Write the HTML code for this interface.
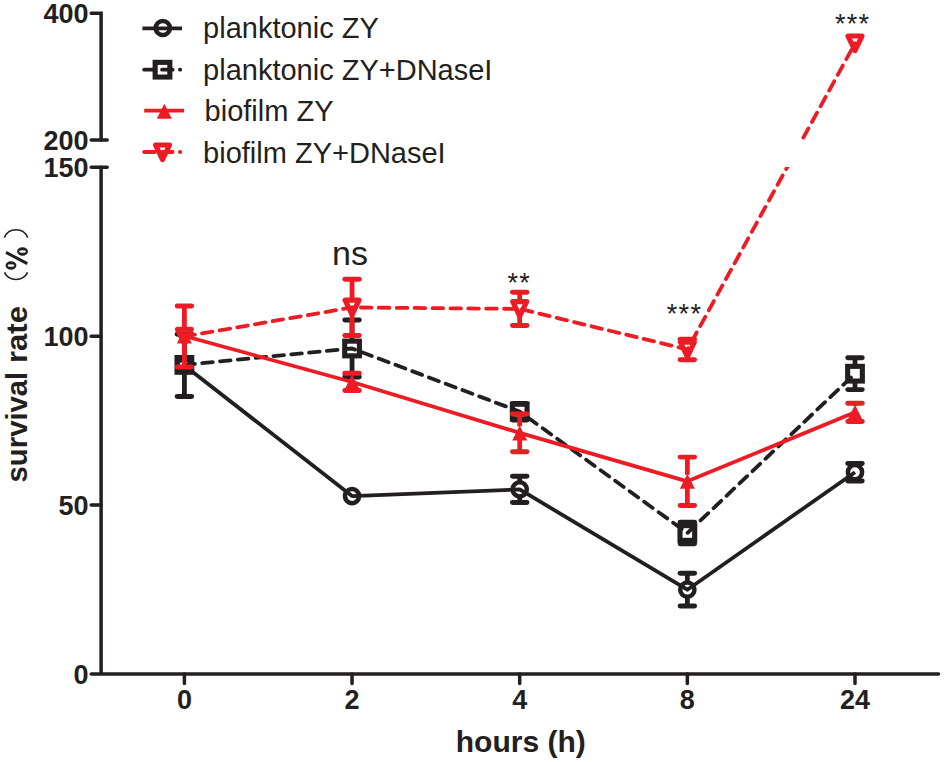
<!DOCTYPE html>
<html><head><meta charset="utf-8"><style>
html,body{margin:0;padding:0;background:#fff;width:945px;height:762px;overflow:hidden}
svg{display:block}
</style></head><body>
<svg width="945" height="762" viewBox="0 0 945 762">
<defs><clipPath id="brk"><rect x="0" y="0" width="945" height="140"/><rect x="0" y="167" width="945" height="600"/></clipPath></defs>
<path d="M91.2 13.3 H101.1 V140" stroke="#231f20" stroke-width="3.5" fill="none" stroke-linejoin="miter" stroke-linecap="round"/>
<path d="M91.2 140 H107.2 M91.2 167.3 H107.2" stroke="#231f20" stroke-width="3.5" fill="none" stroke-linecap="round"/>
<path d="M101.1 167.3 V674 M91.2 674 H938.5" stroke="#231f20" stroke-width="3.5" fill="none" stroke-linecap="round"/>
<line x1="91.2" y1="336.2" x2="101" y2="336.2" stroke="#231f20" stroke-width="3.5" fill="none" stroke-linecap="round"/>
<line x1="91.2" y1="505.1" x2="101" y2="505.1" stroke="#231f20" stroke-width="3.5" fill="none" stroke-linecap="round"/>
<line x1="184.4" y1="674" x2="184.4" y2="683.5" stroke="#231f20" stroke-width="3.5" fill="none" stroke-linecap="round"/>
<line x1="352.05" y1="674" x2="352.05" y2="683.5" stroke="#231f20" stroke-width="3.5" fill="none" stroke-linecap="round"/>
<line x1="519.7" y1="674" x2="519.7" y2="683.5" stroke="#231f20" stroke-width="3.5" fill="none" stroke-linecap="round"/>
<line x1="687.35" y1="674" x2="687.35" y2="683.5" stroke="#231f20" stroke-width="3.5" fill="none" stroke-linecap="round"/>
<line x1="855.0" y1="674" x2="855.0" y2="683.5" stroke="#231f20" stroke-width="3.5" fill="none" stroke-linecap="round"/>
<polyline points="184.4,365.4 352.05,496.1 519.7,489.4 687.35,589.7 855.0,472.2" fill="none" stroke="#231f20" stroke-width="3.8" stroke-linejoin="round"/><line x1="184.4" y1="334.3" x2="184.4" y2="358.9" stroke="#231f20" stroke-width="4.8"/><line x1="184.4" y1="371.9" x2="184.4" y2="396.5" stroke="#231f20" stroke-width="4.8"/><line x1="177.15" y1="334.3" x2="191.65" y2="334.3" stroke="#231f20" stroke-width="4.9" stroke-linecap="round"/><line x1="177.15" y1="396.5" x2="191.65" y2="396.5" stroke="#231f20" stroke-width="4.9" stroke-linecap="round"/><line x1="519.7" y1="476.3" x2="519.7" y2="482.9" stroke="#231f20" stroke-width="4.8"/><line x1="519.7" y1="495.9" x2="519.7" y2="502.5" stroke="#231f20" stroke-width="4.8"/><line x1="512.45" y1="476.3" x2="526.95" y2="476.3" stroke="#231f20" stroke-width="4.9" stroke-linecap="round"/><line x1="512.45" y1="502.5" x2="526.95" y2="502.5" stroke="#231f20" stroke-width="4.9" stroke-linecap="round"/><line x1="687.35" y1="573.3" x2="687.35" y2="583.2" stroke="#231f20" stroke-width="4.8"/><line x1="687.35" y1="596.2" x2="687.35" y2="606.0" stroke="#231f20" stroke-width="4.8"/><line x1="680.1" y1="573.3" x2="694.6" y2="573.3" stroke="#231f20" stroke-width="4.9" stroke-linecap="round"/><line x1="680.1" y1="606.0" x2="694.6" y2="606.0" stroke="#231f20" stroke-width="4.9" stroke-linecap="round"/><line x1="855.0" y1="463.5" x2="855.0" y2="465.7" stroke="#231f20" stroke-width="4.8"/><line x1="855.0" y1="478.7" x2="855.0" y2="481.0" stroke="#231f20" stroke-width="4.8"/><line x1="847.75" y1="463.5" x2="862.25" y2="463.5" stroke="#231f20" stroke-width="4.9" stroke-linecap="round"/><line x1="847.75" y1="481.0" x2="862.25" y2="481.0" stroke="#231f20" stroke-width="4.9" stroke-linecap="round"/><circle cx="184.4" cy="365.4" r="7.1" fill="none" stroke="#231f20" stroke-width="4.5"/><circle cx="352.05" cy="496.1" r="7.1" fill="none" stroke="#231f20" stroke-width="4.5"/><circle cx="519.7" cy="489.4" r="7.1" fill="none" stroke="#231f20" stroke-width="4.5"/><circle cx="687.35" cy="589.7" r="7.1" fill="none" stroke="#231f20" stroke-width="4.5"/><circle cx="855.0" cy="472.2" r="7.1" fill="none" stroke="#231f20" stroke-width="4.5"/>
<polyline points="184.4,364.9 352.05,348.5 519.7,411.6 687.35,533.0 855.0,373.7" fill="none" stroke="#231f20" stroke-width="3.8" stroke-linejoin="round" stroke-dasharray="10.6 7.3" stroke-linecap="round"/><line x1="177.15" y1="360.0" x2="191.65" y2="360.0" stroke="#231f20" stroke-width="4.9" stroke-linecap="round"/><line x1="177.15" y1="370.0" x2="191.65" y2="370.0" stroke="#231f20" stroke-width="4.9" stroke-linecap="round"/><line x1="352.05" y1="320.0" x2="352.05" y2="342.0" stroke="#231f20" stroke-width="4.8"/><line x1="352.05" y1="355.0" x2="352.05" y2="377.0" stroke="#231f20" stroke-width="4.8"/><line x1="344.8" y1="320.0" x2="359.3" y2="320.0" stroke="#231f20" stroke-width="4.9" stroke-linecap="round"/><line x1="344.8" y1="377.0" x2="359.3" y2="377.0" stroke="#231f20" stroke-width="4.9" stroke-linecap="round"/><line x1="519.7" y1="403.5" x2="519.7" y2="405.1" stroke="#231f20" stroke-width="4.8"/><line x1="519.7" y1="418.1" x2="519.7" y2="420.0" stroke="#231f20" stroke-width="4.8"/><line x1="512.45" y1="403.5" x2="526.95" y2="403.5" stroke="#231f20" stroke-width="4.9" stroke-linecap="round"/><line x1="512.45" y1="420.0" x2="526.95" y2="420.0" stroke="#231f20" stroke-width="4.9" stroke-linecap="round"/><line x1="687.35" y1="522.3" x2="687.35" y2="526.5" stroke="#231f20" stroke-width="4.8"/><line x1="687.35" y1="539.5" x2="687.35" y2="543.7" stroke="#231f20" stroke-width="4.8"/><line x1="680.1" y1="522.3" x2="694.6" y2="522.3" stroke="#231f20" stroke-width="4.9" stroke-linecap="round"/><line x1="680.1" y1="543.7" x2="694.6" y2="543.7" stroke="#231f20" stroke-width="4.9" stroke-linecap="round"/><line x1="855.0" y1="357.7" x2="855.0" y2="367.2" stroke="#231f20" stroke-width="4.8"/><line x1="855.0" y1="380.2" x2="855.0" y2="389.6" stroke="#231f20" stroke-width="4.8"/><line x1="847.75" y1="357.7" x2="862.25" y2="357.7" stroke="#231f20" stroke-width="4.9" stroke-linecap="round"/><line x1="847.75" y1="389.6" x2="862.25" y2="389.6" stroke="#231f20" stroke-width="4.9" stroke-linecap="round"/><rect x="177.05" y="357.54999999999995" width="14.7" height="14.7" fill="none" stroke="#231f20" stroke-width="5.1" stroke-linejoin="miter"/><rect x="344.7" y="341.15" width="14.7" height="14.7" fill="none" stroke="#231f20" stroke-width="5.1" stroke-linejoin="miter"/><rect x="512.35" y="404.25" width="14.7" height="14.7" fill="none" stroke="#231f20" stroke-width="5.1" stroke-linejoin="miter"/><rect x="680.0" y="525.65" width="14.7" height="14.7" fill="none" stroke="#231f20" stroke-width="5.1" stroke-linejoin="miter"/><rect x="847.65" y="366.34999999999997" width="14.7" height="14.7" fill="none" stroke="#231f20" stroke-width="5.1" stroke-linejoin="miter"/>
<polyline points="184.4,336.0 352.05,382.0 519.7,432.9 687.35,481.3 855.0,412.3" fill="none" stroke="#ed1c24" stroke-width="3.8" stroke-linejoin="round"/><line x1="352.05" y1="373.3" x2="352.05" y2="375.5" stroke="#ed1c24" stroke-width="4.8"/><line x1="352.05" y1="388.5" x2="352.05" y2="390.5" stroke="#ed1c24" stroke-width="4.8"/><line x1="344.8" y1="373.3" x2="359.3" y2="373.3" stroke="#ed1c24" stroke-width="4.9" stroke-linecap="round"/><line x1="344.8" y1="390.5" x2="359.3" y2="390.5" stroke="#ed1c24" stroke-width="4.9" stroke-linecap="round"/><line x1="519.7" y1="414.0" x2="519.7" y2="426.4" stroke="#ed1c24" stroke-width="4.8"/><line x1="519.7" y1="439.4" x2="519.7" y2="451.7" stroke="#ed1c24" stroke-width="4.8"/><line x1="512.45" y1="414.0" x2="526.95" y2="414.0" stroke="#ed1c24" stroke-width="4.9" stroke-linecap="round"/><line x1="512.45" y1="451.7" x2="526.95" y2="451.7" stroke="#ed1c24" stroke-width="4.9" stroke-linecap="round"/><line x1="687.35" y1="457.1" x2="687.35" y2="474.8" stroke="#ed1c24" stroke-width="4.8"/><line x1="687.35" y1="487.8" x2="687.35" y2="505.5" stroke="#ed1c24" stroke-width="4.8"/><line x1="680.1" y1="457.1" x2="694.6" y2="457.1" stroke="#ed1c24" stroke-width="4.9" stroke-linecap="round"/><line x1="680.1" y1="505.5" x2="694.6" y2="505.5" stroke="#ed1c24" stroke-width="4.9" stroke-linecap="round"/><line x1="855.0" y1="403.2" x2="855.0" y2="405.8" stroke="#ed1c24" stroke-width="4.8"/><line x1="855.0" y1="418.8" x2="855.0" y2="421.5" stroke="#ed1c24" stroke-width="4.8"/><line x1="847.75" y1="403.2" x2="862.25" y2="403.2" stroke="#ed1c24" stroke-width="4.9" stroke-linecap="round"/><line x1="847.75" y1="421.5" x2="862.25" y2="421.5" stroke="#ed1c24" stroke-width="4.9" stroke-linecap="round"/><path d="M184.4 328.5 L191.9 343.5 L176.9 343.5 Z" fill="#ed1c24"/><path d="M352.05 374.5 L359.55 389.5 L344.55 389.5 Z" fill="#ed1c24"/><path d="M519.7 425.4 L527.2 440.4 L512.2 440.4 Z" fill="#ed1c24"/><path d="M687.35 473.8 L694.85 488.8 L679.85 488.8 Z" fill="#ed1c24"/><path d="M855.0 404.8 L862.5 419.8 L847.5 419.8 Z" fill="#ed1c24"/>
<polyline points="184.4,336.5 352.05,307.4 519.7,308.9 687.35,349.5 855.0,43.35" fill="none" stroke="#ed1c24" stroke-width="3.8" stroke-linejoin="round" stroke-dasharray="10.6 7.3" stroke-linecap="round" clip-path="url(#brk)"/><line x1="184.4" y1="306.0" x2="184.4" y2="330.0" stroke="#ed1c24" stroke-width="4.8"/><line x1="184.4" y1="343.0" x2="184.4" y2="367.0" stroke="#ed1c24" stroke-width="4.8"/><line x1="177.15" y1="306.0" x2="191.65" y2="306.0" stroke="#ed1c24" stroke-width="4.9" stroke-linecap="round"/><line x1="177.15" y1="367.0" x2="191.65" y2="367.0" stroke="#ed1c24" stroke-width="4.9" stroke-linecap="round"/><line x1="352.05" y1="279.3" x2="352.05" y2="300.9" stroke="#ed1c24" stroke-width="4.8"/><line x1="352.05" y1="313.9" x2="352.05" y2="335.5" stroke="#ed1c24" stroke-width="4.8"/><line x1="344.8" y1="279.3" x2="359.3" y2="279.3" stroke="#ed1c24" stroke-width="4.9" stroke-linecap="round"/><line x1="344.8" y1="335.5" x2="359.3" y2="335.5" stroke="#ed1c24" stroke-width="4.9" stroke-linecap="round"/><line x1="519.7" y1="292.2" x2="519.7" y2="302.4" stroke="#ed1c24" stroke-width="4.8"/><line x1="519.7" y1="315.4" x2="519.7" y2="325.5" stroke="#ed1c24" stroke-width="4.8"/><line x1="512.45" y1="292.2" x2="526.95" y2="292.2" stroke="#ed1c24" stroke-width="4.9" stroke-linecap="round"/><line x1="512.45" y1="325.5" x2="526.95" y2="325.5" stroke="#ed1c24" stroke-width="4.9" stroke-linecap="round"/><line x1="687.35" y1="339.3" x2="687.35" y2="343.0" stroke="#ed1c24" stroke-width="4.8"/><line x1="687.35" y1="356.0" x2="687.35" y2="359.7" stroke="#ed1c24" stroke-width="4.8"/><line x1="680.1" y1="339.3" x2="694.6" y2="339.3" stroke="#ed1c24" stroke-width="4.9" stroke-linecap="round"/><line x1="680.1" y1="359.7" x2="694.6" y2="359.7" stroke="#ed1c24" stroke-width="4.9" stroke-linecap="round"/><path d="M177.4 329.2 L191.4 329.2 L184.4 343.8 Z" fill="none" stroke="#ed1c24" stroke-width="5.1" stroke-linejoin="round"/><path d="M345.05 300.09999999999997 L359.05 300.09999999999997 L352.05 314.7 Z" fill="none" stroke="#ed1c24" stroke-width="5.1" stroke-linejoin="round"/><path d="M512.7 301.59999999999997 L526.7 301.59999999999997 L519.7 316.2 Z" fill="none" stroke="#ed1c24" stroke-width="5.1" stroke-linejoin="round"/><path d="M680.35 342.2 L694.35 342.2 L687.35 356.8 Z" fill="none" stroke="#ed1c24" stroke-width="5.1" stroke-linejoin="round"/><path d="M848.0 36.050000000000004 L862.0 36.050000000000004 L855.0 50.65 Z" fill="none" stroke="#ed1c24" stroke-width="5.1" stroke-linejoin="round"/>
<line x1="142.4" y1="28.3" x2="182" y2="28.3" stroke="#231f20" stroke-width="3.8"/><circle cx="162.8" cy="28.0" r="7.1" fill="none" stroke="#231f20" stroke-width="4.5"/>
<line x1="144.15" y1="69.7" x2="180.25" y2="69.7" stroke="#231f20" stroke-width="3.8" stroke-dasharray="10.6 7.3" stroke-linecap="round"/><rect x="155.15" y="62.35" width="14.7" height="14.7" fill="none" stroke="#231f20" stroke-width="5.1" stroke-linejoin="miter"/>
<line x1="144.2" y1="110.7" x2="184.1" y2="110.7" stroke="#ed1c24" stroke-width="3.8"/><path d="M164.3 103.8 L171.8 118.8 L156.8 118.8 Z" fill="#ed1c24"/>
<line x1="144.15" y1="152.0" x2="180.25" y2="152.0" stroke="#ed1c24" stroke-width="3.8" stroke-dasharray="10.6 7.3" stroke-linecap="round"/><path d="M155.5 145.0 L169.5 145.0 L162.5 159.60000000000002 Z" fill="none" stroke="#ed1c24" stroke-width="5.1" stroke-linejoin="round"/>
<text x="203.1" y="38.4" font-family="Liberation Sans, sans-serif" font-size="29" text-anchor="start" fill="#231f20">planktonic ZY</text>
<text x="203.1" y="79.6" font-family="Liberation Sans, sans-serif" font-size="29" text-anchor="start" fill="#231f20">planktonic ZY+DNaseI</text>
<text x="204.6" y="121.3" font-family="Liberation Sans, sans-serif" font-size="29" text-anchor="start" fill="#231f20">biofilm ZY</text>
<text x="203.1" y="162.9" font-family="Liberation Sans, sans-serif" font-size="29" text-anchor="start" fill="#231f20">biofilm ZY+DNaseI</text>
<text x="88.5" y="23.1" font-family="Liberation Sans, sans-serif" font-size="27" font-weight="bold" text-anchor="end" fill="#231f20">400</text>
<text x="88.5" y="149.8" font-family="Liberation Sans, sans-serif" font-size="27" font-weight="bold" text-anchor="end" fill="#231f20">200</text>
<text x="88.5" y="177.10000000000002" font-family="Liberation Sans, sans-serif" font-size="27" font-weight="bold" text-anchor="end" fill="#231f20">150</text>
<text x="88.5" y="346.0" font-family="Liberation Sans, sans-serif" font-size="27" font-weight="bold" text-anchor="end" fill="#231f20">100</text>
<text x="88.5" y="514.9" font-family="Liberation Sans, sans-serif" font-size="27" font-weight="bold" text-anchor="end" fill="#231f20">50</text>
<text x="88.5" y="683.8" font-family="Liberation Sans, sans-serif" font-size="27" font-weight="bold" text-anchor="end" fill="#231f20">0</text>
<text x="184.4" y="708.7" font-family="Liberation Sans, sans-serif" font-size="27" font-weight="bold" text-anchor="middle" fill="#231f20">0</text>
<text x="352.05" y="708.7" font-family="Liberation Sans, sans-serif" font-size="27" font-weight="bold" text-anchor="middle" fill="#231f20">2</text>
<text x="519.7" y="708.7" font-family="Liberation Sans, sans-serif" font-size="27" font-weight="bold" text-anchor="middle" fill="#231f20">4</text>
<text x="687.35" y="708.7" font-family="Liberation Sans, sans-serif" font-size="27" font-weight="bold" text-anchor="middle" fill="#231f20">8</text>
<text x="855.0" y="708.7" font-family="Liberation Sans, sans-serif" font-size="27" font-weight="bold" text-anchor="middle" fill="#231f20">24</text>
<text x="520.8" y="751.5" font-family="Liberation Sans, sans-serif" font-size="30" font-weight="bold" text-anchor="middle" fill="#231f20">hours (h)</text>
<g transform="translate(27.2,482.4) rotate(-90) scale(0.976,1)"><text x="0" y="0" font-family="Liberation Sans, sans-serif" font-size="30" font-weight="bold" text-anchor="start" fill="#231f20">survival</text></g>
<g transform="translate(27.2,363.0) rotate(-90) scale(1.035,1)"><text x="0" y="0" font-family="Liberation Sans, sans-serif" font-size="30" font-weight="bold" text-anchor="start" fill="#231f20">rate</text></g>
<path d="M17.1 251.45 A5.45 4.2 0 1 0 28.0 251.45 A5.45 4.2 0 1 0 17.1 251.45 Z M19.25 251.45 A3.3 1.3 0 1 0 25.85 251.45 A3.3 1.3 0 1 0 19.25 251.45 Z M5.55 265.5 A5.45 4.2 0 1 0 16.45 265.5 A5.45 4.2 0 1 0 5.55 265.5 Z M7.7 265.5 A3.3 1.3 0 1 0 14.3 265.5 A3.3 1.3 0 1 0 7.7 265.5 Z" fill="#231f20" fill-rule="evenodd"/>
<line x1="6.0" y1="252.4" x2="27.3" y2="263.7" stroke="#231f20" stroke-width="3.0"/>
<path d="M4.4 237.6 A12.6 12.6 0 0 1 27.7 237.6" fill="none" stroke="#231f20" stroke-width="1.6"/>
<path d="M4.4 272.4 A13 13 0 0 0 27.6 272.4" fill="none" stroke="#231f20" stroke-width="1.6"/>
<text x="332.0" y="264.9" font-family="Liberation Sans, sans-serif" font-size="34" text-anchor="start" fill="#231f20">ns</text>
<text x="507.5" y="291.8" font-family="Liberation Sans, sans-serif" font-size="27" text-anchor="start" fill="#231f20" letter-spacing="1.3">**</text>
<text x="666.8" y="322.5" font-family="Liberation Sans, sans-serif" font-size="27" text-anchor="start" fill="#231f20" letter-spacing="1.3">***</text>
<text x="835.0" y="32.9" font-family="Liberation Sans, sans-serif" font-size="27" text-anchor="start" fill="#231f20" letter-spacing="1.3">***</text>
</svg>
</body></html>
